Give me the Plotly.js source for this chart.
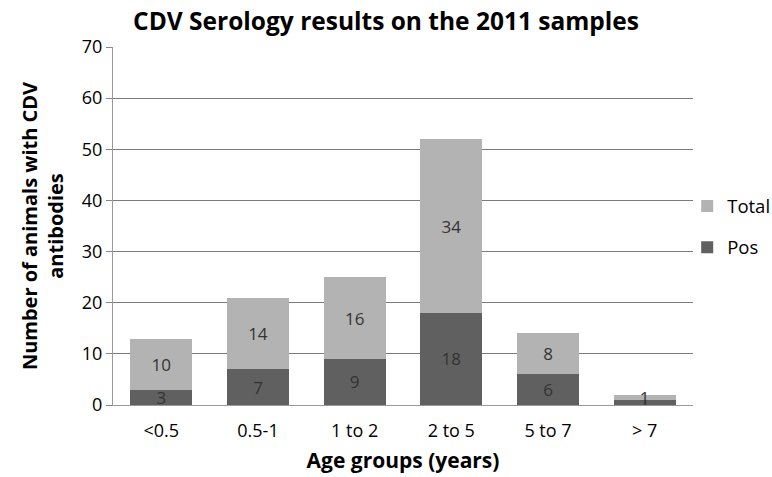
<!DOCTYPE html>
<html><head><meta charset="utf-8">
<script src="https://cdn.plot.ly/plotly-3.0.1.min.js"></script>
<style>html,body{margin:0;padding:0;background:#fff}#chart{width:772px;height:477px}</style>
</head><body><div id="chart"></div>
<script>
const categories = ['<0.5', '0.5-1', '1 to 2', '2 to 5', '5 to 7', '> 7'];
const posValues = [3, 7, 9, 18, 6, 1];
const totalValues = [10, 14, 16, 34, 8, 1];
const yTicks = [0, 10, 20, 30, 40, 50, 60, 70];

const FONT = 'Open Sans, Liberation Sans, sans-serif';
const traces = [
  {type: 'bar', name: 'Pos', x: categories, y: posValues, text: posValues.map(String),
   textposition: 'inside', insidetextanchor: 'middle', constraintext: 'none', textangle: 0,
   textfont: {color: '#333', size: 17, family: FONT},
   marker: {color: '#606060'}, legendgroup: 'pos', legendrank: 2, hoverinfo: 'x+y'},
  {type: 'bar', name: 'Total', x: categories, y: totalValues, text: totalValues.map(String),
   textposition: 'inside', insidetextanchor: 'middle', constraintext: 'none', textangle: 0,
   textfont: {color: '#333', size: 17, family: FONT},
   marker: {color: '#b3b3b3'}, legendgroup: 'total', legendrank: 1, hoverinfo: 'x+y'}
];
const layout = {
  width: 772, height: 477,
  margin: {l: 113, r: 79, t: 47, b: 72, autoexpand: false},
  barmode: 'stack', bargap: 0.36,
  paper_bgcolor: '#fff', plot_bgcolor: '#fff',
  font: {family: FONT, color: '#111', size: 17},
  title: {text: '<b>CDV Serology results on the 2011 samples</b>', x: 0.5, xanchor: 'center', y: 0.955, yanchor: 'middle',
          font: {size: 24.5, family: FONT, color: '#000'}},
  xaxis: {title: {text: '<b>Age groups (years)</b>', font: {size: 21, family: FONT, color: '#000'}, standoff: 12},
          showline: true, linecolor: '#999', linewidth: 1, ticks: '', tickfont: {size: 18, color: '#000'},
          ticklabelstandoff: 9, showgrid: false},
  yaxis: {title: {text: '<b>Number of animals with CDV<br>antibodies</b>', font: {size: 20, family: FONT, color: '#000'}, standoff: 12},
          range: [0, 70], tickvals: yTicks, ticktext: yTicks.map(String),
          showline: true, linecolor: '#999', linewidth: 1, ticks: 'outside', ticklen: 6, tickcolor: '#888',
          showgrid: true, gridcolor: '#7a7a7a', gridwidth: 1, zeroline: false,
          tickfont: {size: 18, color: '#000'}},
  legend: {x: 0.99, xanchor: 'left', y: 0.497, yanchor: 'middle', tracegroupgap: 14, traceorder: 'grouped',
           itemwidth: 30,
           font: {size: 18.5, color: '#000', family: FONT}, bgcolor: 'rgba(0,0,0,0)'},
  showlegend: true
};
Plotly.newPlot('chart', traces, layout, {displayModeBar: false, staticPlot: true});
</script></body></html>
